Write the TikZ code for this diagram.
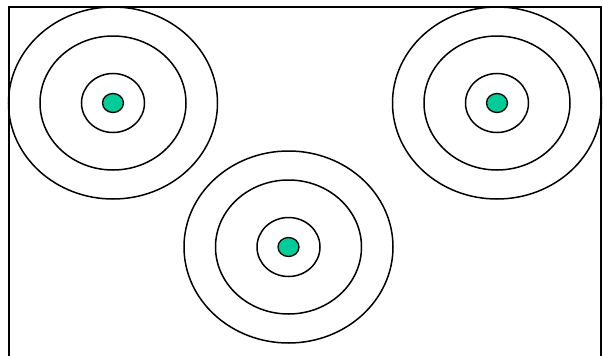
\documentclass[tikz,border=0pt]{standalone}
\definecolor{dotgreen}{RGB}{0,204,153}
\begin{document}
\begin{tikzpicture}[x=1pt,y=-1pt,
  ring/.style={draw=black,line width=1.5pt},
  dotstyle/.style={draw=black,line width=1.3pt,fill=dotgreen}]
\useasboundingbox (0,0) rectangle (603,356);
\clip (0,0) rectangle (603,356);
\fill[white] (0,0) rectangle (603,356);
\draw[ring] (9,7) rectangle (601,380);
\foreach \name/\cx/\cy in {L/113/103, R/497/103, B/288.5/247}{
  \coordinate (\name) at (\cx,\cy);
  \draw[ring] (\name) ellipse [x radius=104.5, y radius=96];
  \draw[ring] (\name) ellipse [x radius=73, y radius=67];
  \draw[ring] (\name) ellipse [x radius=31.5, y radius=29.5];
  \draw[dotstyle] (\name) ellipse [x radius=10.5, y radius=9.5];
}
\end{tikzpicture}
\end{document}
